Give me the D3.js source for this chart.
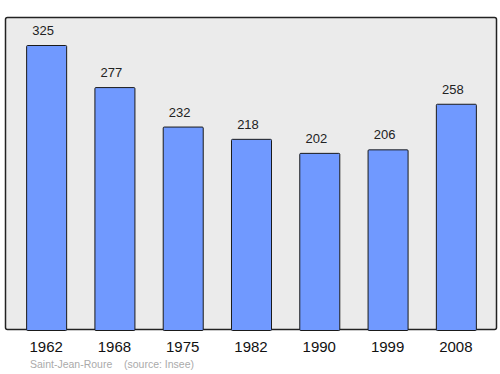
<!DOCTYPE html>
<html>
<head>
<meta charset="utf-8">
<script src="https://cdn.jsdelivr.net/npm/d3@7"></script>
<style>
  body { margin: 0; background: #fff; }
  text { font-family: "Liberation Sans", Arial, sans-serif; }
</style>
</head>
<body>
<svg class="target" width="500" height="374"></svg>
<script>
var years = ["1962", "1968", "1975", "1982", "1990", "1999", "2008"];
var population = [325, 277, 232, 218, 202, 206, 258];
var place = "Saint-Jean-Roure";
var source = "(source: Insee)";

var view_w = 500;
var view_h = 374;
const svg = d3.select(".target");

// plot frame
svg.append('rect')
    .attr('x', 5.5)
    .attr('y', 17.5)
    .attr('width', 491)
    .attr('height', 312)
    .attr('rx', 2)
    .style('fill', '#ebebeb')
    .style('stroke', '#222')
    .style('stroke-width', 1.5);

var x = d3.scaleBand()
    .domain(years)
    .range([12, 490])
    .paddingInner(0.414)
    .paddingOuter(0.207);

var y = d3.scaleLinear()
    .domain([0, 325])
    .range([330, 45]);

svg.selectAll('rect.bar')
    .data(population)
    .enter()
    .append('rect')
    .attr('class', 'bar')
    .attr('x', (d, i) => x(years[i]) + 0.5)
    .attr('y', d => y(d) + 0.5)
    .attr('width', x.bandwidth())
    .attr('height', d => 330 - y(d))
    .attr('rx', 1)
    .style('fill', '#7099ff')
    .style('stroke', '#1a1a1a')
    .style('stroke-width', 1);

// value labels, sit a little left of the bar centre like the original
svg.selectAll('text.val')
    .data(population)
    .enter()
    .append('text')
    .attr('class', 'val')
    .attr('x', (d, i) => x(years[i]) + x.bandwidth() / 2 - 3)
    .attr('y', d => y(d) - 10)
    .attr('text-anchor', 'middle')
    .style('font-size', '13px')
    .style('fill', '#222')
    .text(d => d);

// year labels
svg.selectAll('text.year')
    .data(years)
    .enter()
    .append('text')
    .attr('class', 'year')
    .attr('x', d => x(d) + x.bandwidth() / 2)
    .attr('y', 352)
    .attr('text-anchor', 'middle')
    .style('font-size', '15px')
    .style('fill', '#111')
    .text(d => d);

svg.append('text')
    .attr('x', 30)
    .attr('y', 368)
    .style('font-size', '10.5px')
    .style('fill', '#aaa')
    .attr('xml:space', 'preserve')
    .text(place + "    " + source);
</script>
</body>
</html>
